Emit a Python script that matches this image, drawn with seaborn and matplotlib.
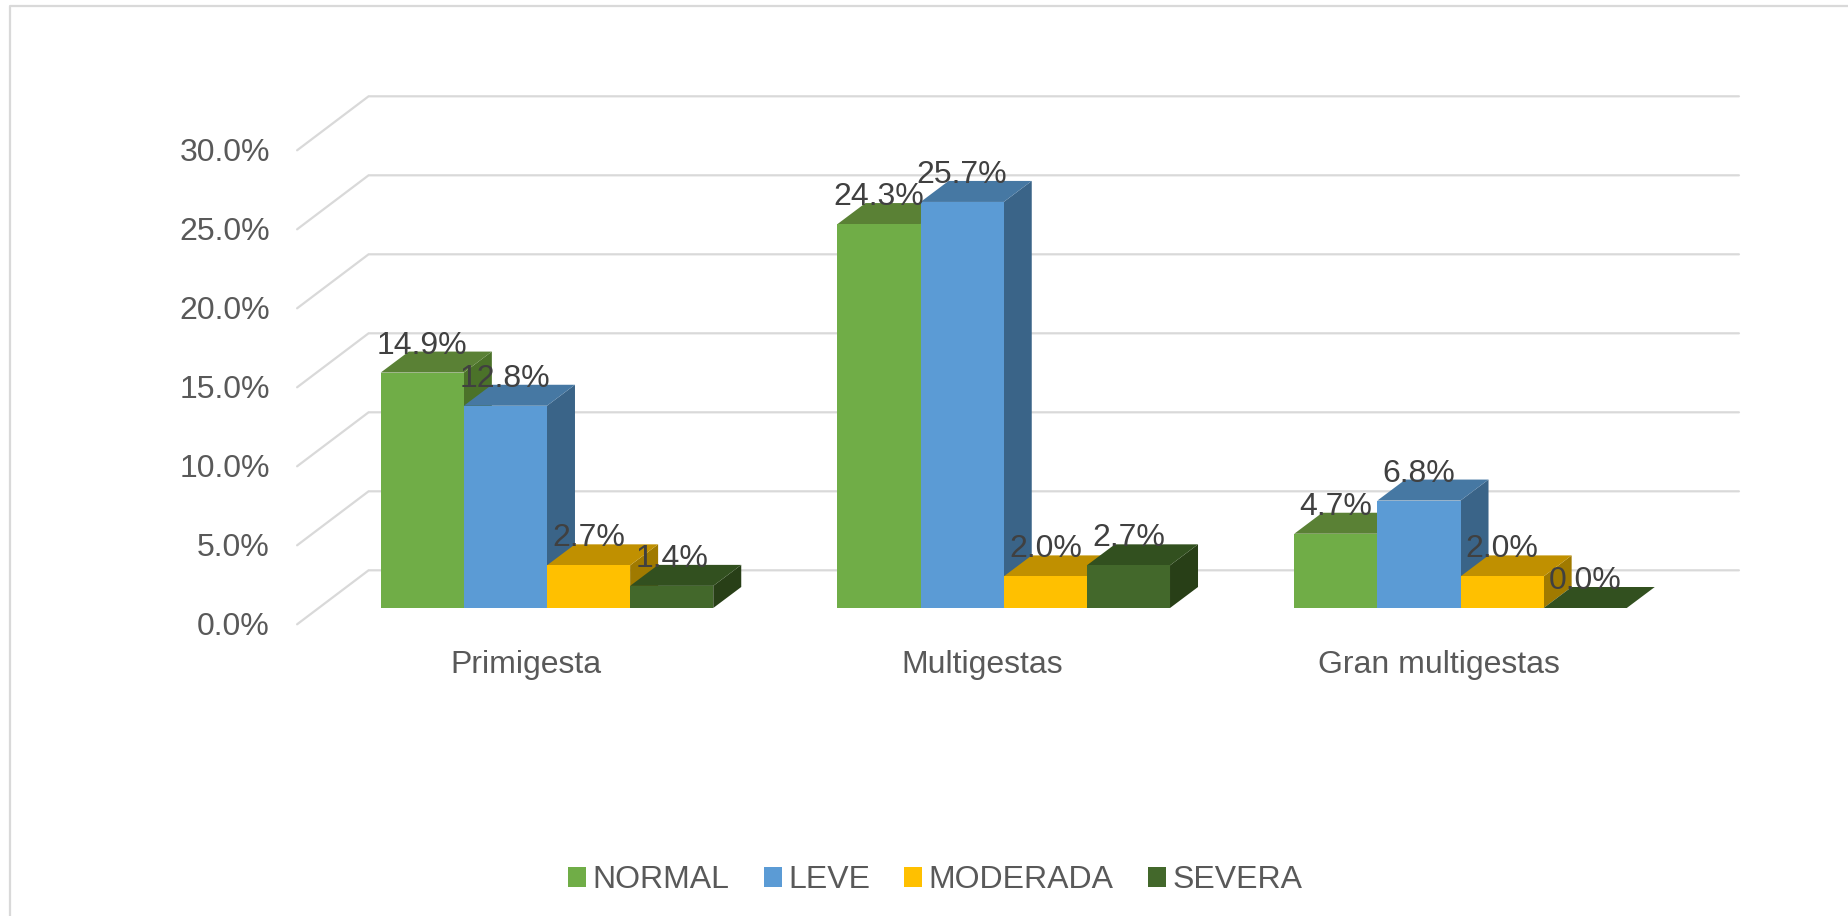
import matplotlib
matplotlib.use("Agg")
import matplotlib.pyplot as plt
from matplotlib.lines import Line2D
from matplotlib.transforms import ScaledTranslation
import pandas as pd
import seaborn as sns

categories = ["Primigesta", "Multigestas", "Gran multigestas"]
severity = ["NORMAL", "LEVE", "MODERADA", "SEVERA"]
normal = [14.9, 24.3, 4.7]
leve = [12.8, 25.7, 6.8]
moderada = [2.7, 2.0, 2.0]
severa = [1.4, 2.7, 0.0]
y_ticks = [0, 5, 10, 15, 20, 25, 30]

front_colors = ["#70AD47", "#5B9BD5", "#FFC000", "#43682B"]
top_colors = ["#5A8135", "#4678A3", "#C09000", "#32501F"]
side_colors = ["#4B7229", "#3A6488", "#A07A00", "#283F17"]
GRID = "#D9D9D9"
TEXT = "#595959"
LABEL = "#404040"

W, H = 1849, 916
sns.set_theme(style="white")
plt.rcParams["font.family"] = ["Liberation Sans", "DejaVu Sans"]

frame = pd.DataFrame({
    "categoria": categories * 4,
    "severidad": [s for s in severity for _ in categories],
    "valor": normal + leve + moderada + severa,
})

fig = plt.figure(figsize=(W / 100, H / 100), dpi=100, facecolor="white")
left, right, bottom, top = 318.6, 1688.9, 608.0, 134.0
ax = fig.add_axes([left / W, 1 - bottom / H, (right - left) / W, (bottom - top) / H])

sns.barplot(
    data=frame, x="categoria", y="valor", hue="severidad",
    order=categories, hue_order=severity, palette=front_colors,
    saturation=1, width=0.728, gap=0, linewidth=0, ax=ax,
)
ax.set_xlim(-0.5, 2.5)
ax.set_ylim(0, 30)
ax.set_xlabel("")
ax.set_ylabel("")
ax.patch.set_alpha(0)
sns.despine(ax=ax, left=True, bottom=True)

px_x = (right - left) / 3
px_y = (bottom - top) / 30

# Depth of the fake 3D box: bars sit inside it, walls run front to back.
bar_dx, bar_dy = 28 / px_x, 21 / px_y
front_dx, front_dy = -21.5 / px_x, -16.3 / px_y
back_dx, back_dy = 50.0 / px_x, 37.7 / px_y

for v in y_ticks:
    ax.add_line(Line2D([-0.5 + front_dx, -0.5 + back_dx, 2.5 + back_dx],
                       [v + front_dy, v + back_dy, v + back_dy],
                       color=GRID, lw=1.6, zorder=1, clip_on=False,
                       solid_joinstyle="miter"))

# Extrude each bar: side and top faces, drawn left to right so that
# nearer neighbours cover them correctly.
faces = {}
for i, col in enumerate(front_colors):
    for b in ax.containers[i]:
        faces[b] = i
z = 2
for b in sorted(faces, key=lambda r: r.get_x()):
    i = faces[b]
    x0, x1 = b.get_x(), b.get_x() + b.get_width()
    h = b.get_height()
    ax.fill([x1, x1 + bar_dx, x1 + bar_dx, x1],
            [0, bar_dy, h + bar_dy, h],
            color=side_colors[i], lw=0, zorder=z, clip_on=False)
    ax.fill([x0, x1, x1 + bar_dx, x0 + bar_dx],
            [h, h, h + bar_dy, h + bar_dy],
            color=top_colors[i], lw=0, zorder=z + 0.1, clip_on=False)
    b.set_zorder(z + 0.2)
    b.set_clip_on(False)
    z += 1

for b in faces:
    ax.annotate(f"{b.get_height():.1f}%",
                (b.get_x() + b.get_width() / 2, b.get_height()),
                xytext=(0, 27), textcoords="offset pixels",
                ha="center", va="center", fontsize=23, color=LABEL,
                zorder=100, annotation_clip=False)

ax.set_yticks(y_ticks)
ax.set_yticklabels([f"{v:.1f}%" for v in y_ticks])
ax.tick_params(axis="y", length=0, pad=35, labelsize=23, labelcolor=TEXT)
ax.tick_params(axis="x", length=0, pad=30.3, labelsize=23, labelcolor=TEXT)
shift_y = ScaledTranslation(0, -15.6 / 100, fig.dpi_scale_trans)
shift_x = ScaledTranslation(-21.5 / 100, 0, fig.dpi_scale_trans)
for lab in ax.get_yticklabels():
    lab.set_transform(lab.get_transform() + shift_y)
for lab in ax.get_xticklabels():
    lab.set_transform(lab.get_transform() + shift_x)

sns.move_legend(
    ax, "center", bbox_to_anchor=(935.2 / W, 1 - 880.5 / H),
    bbox_transform=fig.transFigure, ncol=4, title=None, frameon=False,
    fontsize=23, handlelength=0.5625, handleheight=0.5625,
    handletextpad=0.2, columnspacing=1.08, labelcolor=TEXT,
    borderpad=0, borderaxespad=0,
)

# Chart area outline: only its top and left edges fall inside the canvas.
fig.add_artist(Line2D([10.5 / W, 10.5 / W, 1], [0, 1 - 5.5 / H, 1 - 5.5 / H],
                      color=GRID, lw=1.6, transform=fig.transFigure))

fig.savefig("out.png", dpi=100, facecolor="white")
